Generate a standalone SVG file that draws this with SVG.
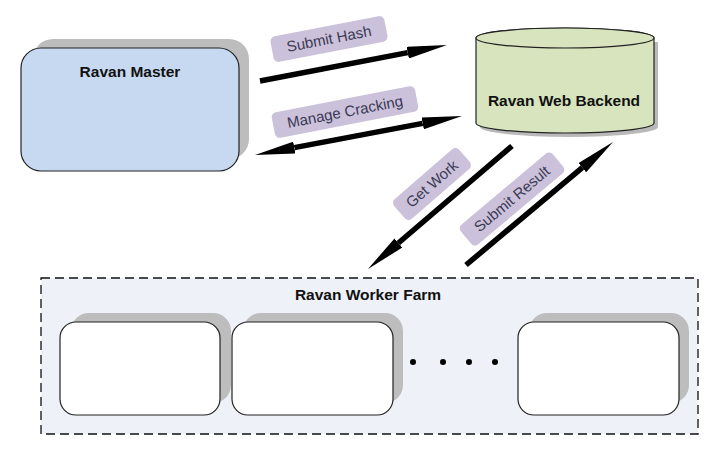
<svg xmlns="http://www.w3.org/2000/svg" width="714" height="450" viewBox="0 0 714 450">
<style>
.title{font-family:"Liberation Sans",Arial,sans-serif;font-weight:bold;font-size:15.5px;fill:#111;text-anchor:middle}
.lbl{font-family:"Liberation Sans",Arial,sans-serif;font-size:15px;fill:#3a3a55;text-anchor:middle}
.lblbox{fill:#ccc1da}
.shadow{fill:#bdbdbd}
.box{stroke:#222;stroke-width:1.2}
.arrow{stroke:#000;stroke-width:5.5;fill:none}
</style>
<defs>
<marker id="ah" viewBox="0 0 40 12" refX="0" refY="6" markerWidth="40" markerHeight="12" markerUnits="userSpaceOnUse" orient="auto-start-reverse">
<path d="M0,0 L40,6 L0,12 z" fill="#000"/>
</marker>
</defs>
<rect width="714" height="450" fill="#fff"/>
<g id="farm">
<rect x="41" y="278" width="657" height="156" fill="#eef1f7" stroke="#111" stroke-width="1.3" stroke-dasharray="9,5"/>
<text class="title" x="368" y="300">Ravan Worker Farm</text>
<circle cx="413" cy="362" r="3" fill="#000"/>
<circle cx="443" cy="362" r="3" fill="#000"/>
<circle cx="469" cy="362" r="3" fill="#000"/>
<circle cx="495" cy="362" r="3" fill="#000"/>
</g>
<g id="worker1">
<rect class="shadow" x="71" y="313" width="160" height="90" rx="18"/>
<rect class="box" x="60" y="322" width="160" height="93" rx="16" fill="#fff"/>
</g>
<g id="worker2">
<rect class="shadow" x="243" y="313" width="160" height="90" rx="18"/>
<rect class="box" x="232" y="322" width="161" height="93" rx="16" fill="#fff"/>
</g>
<g id="worker3">
<rect class="shadow" x="529" y="313" width="160" height="90" rx="18"/>
<rect class="box" x="518" y="322" width="161" height="93" rx="16" fill="#fff"/>
</g>
<g id="master">
<rect class="shadow" x="33" y="39" width="216" height="120" rx="20"/>
<rect class="box" x="21" y="48" width="218" height="123" rx="20" fill="#c6d9f0"/>
<text class="title" x="130" y="77">Ravan Master</text>
</g>
<g id="backend">
<path d="M480,42 v85 a89,10 0 0 0 178,0 v-85 z" fill="#a8a8a8" opacity="0.8"/>
<path d="M476,38 v85 a89,10 0 0 0 178,0 v-85 a89,10 0 0 0 -178,0 z" fill="#d7e4bd" stroke="#222" stroke-width="1.2"/>
<ellipse cx="565" cy="38" rx="89" ry="10" fill="#d7e4bd" stroke="#222" stroke-width="1.2"/>
<text class="title" x="564" y="106">Ravan Web Backend</text>
</g>
<g id="connectors">
<path class="arrow" d="M260,81 L407.7,52.6" marker-end="url(#ah)"/>
<path class="arrow" d="M294.3,147.6 L422.7,123.4" marker-start="url(#ah)" marker-end="url(#ah)"/>
<path class="arrow" d="M512,146 L398.4,243" marker-end="url(#ah)"/>
<path class="arrow" d="M466,265 L582.3,167.7" marker-end="url(#ah)"/>
<g transform="translate(329,39) rotate(-11)">
<rect class="lblbox" x="-58" y="-13" width="116" height="26" rx="5"/>
<text class="lbl" x="0" y="5">Submit Hash</text>
</g>
<g transform="translate(345,112) rotate(-11)">
<rect class="lblbox" x="-73" y="-13" width="146" height="26" rx="5"/>
<text class="lbl" x="0" y="5">Manage Cracking</text>
</g>
<g transform="translate(432,184) rotate(-41)">
<rect class="lblbox" x="-43" y="-13" width="86" height="26" rx="5"/>
<text class="lbl" x="0" y="5">Get Work</text>
</g>
<g transform="translate(512,199) rotate(-40)">
<rect class="lblbox" x="-60" y="-13" width="120" height="26" rx="5"/>
<text class="lbl" x="0" y="5">Submit Result</text>
</g>
</g>
</svg>
